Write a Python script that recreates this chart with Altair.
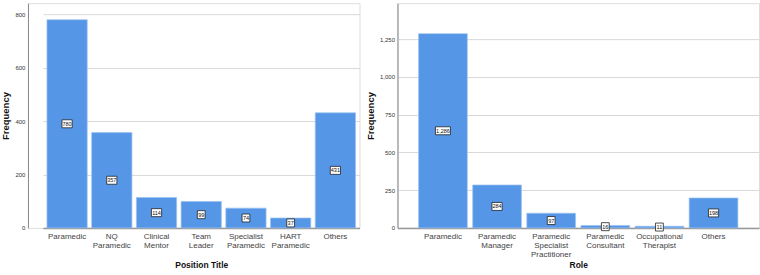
import altair as alt
import pandas as pd

pos_titles = ["Paramedic", "NQ Paramedic", "Clinical Mentor", "Team Leader",
              "Specialist Paramedic", "HART Paramedic", "Others"]
pos_counts = [780, 357, 114, 99, 74, 37, 431]

roles = ["Paramedic", "Paramedic Manager", "Paramedic Specialist Practitioner",
         "Paramedic Consultant", "Occupational Therapist", "Others"]
role_counts = [1286, 284, 97, 16, 11, 198]

left_ticks = [0, 200, 400, 600, 800]
right_ticks = [0, 250, 500, 750, 1000, 1250]

FONT = "Liberation Sans, Arial, sans-serif"
BAR = "#5596E6"


def panel(cats, counts, xtitle, ticks, ymax, xscale, width, height, xtitle_pad):
    df = pd.DataFrame({"cat": cats, "n": counts})
    base = alt.Chart(df).transform_calculate(
        mid="datum.n / 2",
        lab="format(datum.n, ',.0f')",
    ).transform_calculate(
        w="length(datum.lab) * 1.2 + 1.5",
    ).transform_calculate(
        box="'M' + (-datum.w) + ',-4H' + datum.w + 'V4H' + (-datum.w) + 'Z'",
    )
    x = alt.X(
        "cat:N", sort=cats, title=xtitle,
        scale=xscale,
        axis=alt.Axis(labelAngle=0, ticks=False, labelExpr="split(datum.label, ' ')",
                      labelFontSize=8, labelColor="#444", labelFont=FONT,
                      labelLineHeight=9, labelPadding=5, labelBaseline="top",
                      domainColor="#999", domainWidth=1.5,
                      titleFont=FONT, titleFontSize=8.5, titleFontWeight="bold",
                      titleColor="#111", titlePadding=xtitle_pad, grid=False),
    )
    bars = base.mark_bar(color=BAR, stroke="#9cc2f0", strokeWidth=0.7).encode(
        x=x,
        y=alt.Y("n:Q", title="Frequency",
                scale=alt.Scale(domain=[0, ymax], nice=False, zero=True),
                axis=alt.Axis(values=ticks, format=",.0f", ticks=False,
                              labelFontSize=6, labelColor="#333", labelFont=FONT,
                              labelPadding=3, domainColor="#888",
                              gridColor="#d8d8d8", gridWidth=1,
                              titleFont=FONT, titleFontSize=9.5,
                              titleFontWeight="bold", titleColor="#111",
                              titlePadding=4)),
    )
    boxes = base.mark_point(filled=True, fill="white", stroke="#222",
                            strokeWidth=0.8, size=4, opacity=1).encode(
        x=alt.X("cat:N", sort=cats),
        y=alt.Y("mid:Q"),
        shape=alt.Shape("box:N", scale=None),
    )
    texts = base.mark_text(fontSize=5.5, font=FONT, color="#111", baseline="middle").encode(
        x=alt.X("cat:N", sort=cats),
        y=alt.Y("mid:Q"),
        text="lab:N",
    )
    return alt.layer(bars, boxes, texts).properties(width=width, height=height)


left_scale = alt.Scale(range=[15, 332], paddingInner=0.1, paddingOuter=0.09)
right_scale = alt.Scale(paddingInner=0.1, paddingOuter=0.39)

left = panel(pos_titles, pos_counts, "Position Title", left_ticks, 842, left_scale, 332, 225, 11)
right = panel(roles, role_counts, "Role", right_ticks, 1488, right_scale, 362, 225, 2)

chart = alt.hconcat(left, right, spacing=4).properties(
    padding={"left": 0, "top": 2, "right": 0, "bottom": 0}
).configure_view(stroke=None).configure(background="white")

chart.save("out.html", embed_options={"renderer": "svg", "actions": False})
